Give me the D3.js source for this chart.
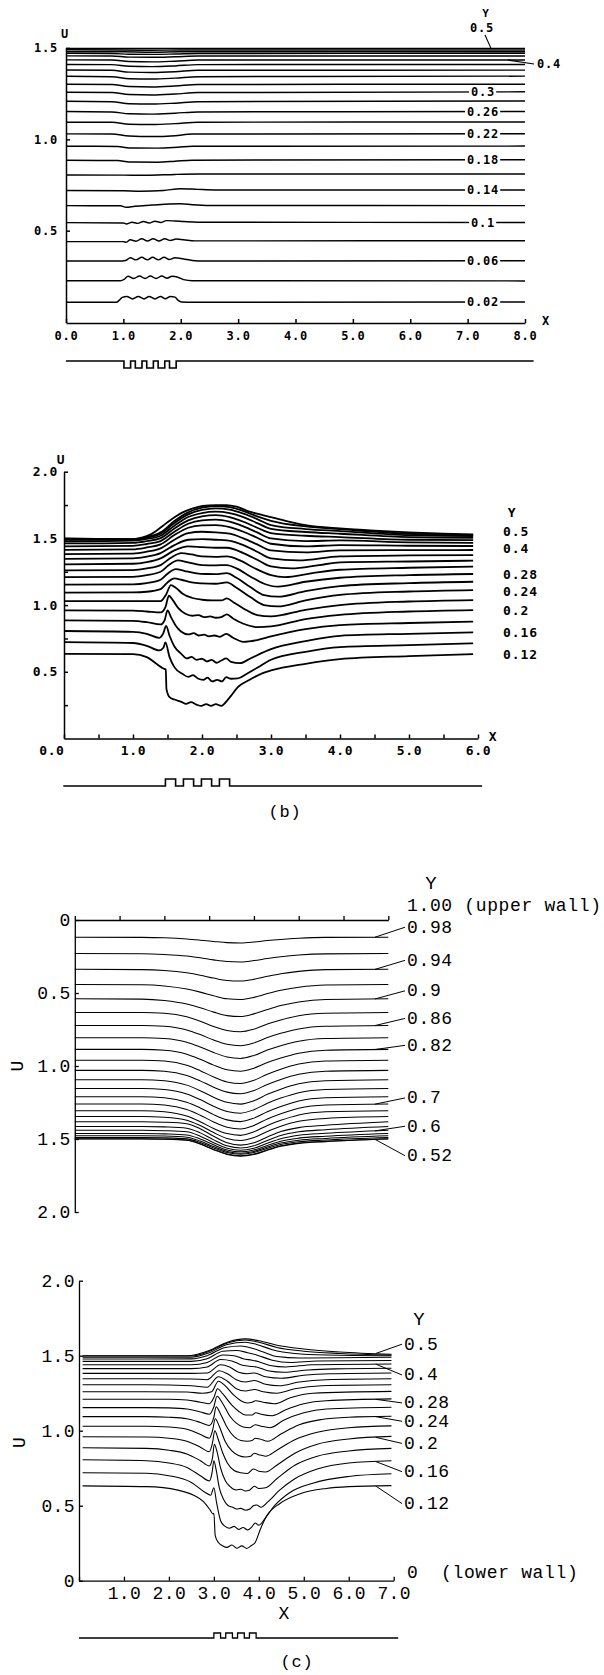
<!DOCTYPE html>
<html>
<head>
<meta charset="utf-8">
<script src="https://cdn.jsdelivr.net/npm/d3@7"></script>
<style>
  body { margin: 0; background: #fff; }
  svg { display: block; }
</style>
</head>
<body>
<div id="figure"></div>
<script>
// ---------------- panel (a) : velocity profiles u(x) at fixed Y ----------------
const yLevelsA = [0.02,0.04,0.06,0.08,0.10,0.12,0.14,0.16,0.18,0.20,0.22,0.24,0.26,0.28,0.30,0.32,0.34,0.36,0.38,0.40,0.42,0.44,0.46,0.48,0.50];
const profilesA = [
  [[0,.108],[0.88,.108],[0.93,.12],[0.98,.135],[1.06,.14],[1.16,.126],[1.26,.14],[1.36,.126],[1.45,.14],[1.55,.126],[1.65,.14],[1.73,.127],[1.82,.14],[1.9,.136],[1.95,.12],[2.02,.11],[2.2,.108],[8,.11]],
  [[0,.226],[0.95,.226],[1.02,.235],[1.08,.25],[1.18,.238],[1.28,.252],[1.38,.238],[1.47,.252],[1.57,.238],[1.67,.252],[1.76,.24],[1.85,.25],[1.95,.245],[2.05,.232],[2.2,.226],[8,.225]],
  [[0,.334],[0.98,.334],[1.05,.338],[1.12,.352],[1.22,.34],[1.32,.354],[1.42,.34],[1.51,.354],[1.61,.34],[1.71,.354],[1.8,.342],[1.9,.352],[2.05,.345],[2.2,.337],[2.4,.334],[8,.335]],
  [[0,.44],[1.0,.44],[1.05,.436],[1.12,.45],[1.22,.442],[1.32,.456],[1.42,.443],[1.52,.456],[1.62,.443],[1.72,.456],[1.82,.446],[1.92,.454],[2.05,.45],[2.25,.444],[2.5,.444],[8,.445]],
  [[0,.544],[1.0,.542],[1.05,.537],[1.15,.546],[1.25,.54],[1.35,.55],[1.45,.542],[1.55,.552],[1.65,.545],[1.75,.555],[1.9,.553],[2.05,.55],[2.3,.546],[8,.545]],
  [[0,.637],[0.95,.636],[1.05,.628],[1.2,.634],[1.5,.64],[1.8,.646],[2.0,.647],[2.2,.642],[2.5,.638],[8,.637]],
  [[0,.72],[1.0,.718],[1.3,.716],[1.7,.72],[2.0,.73],[2.3,.726],[2.6,.723],[8,.723]],
  [[0,.805],[1.0,.804],[1.4,.803],[1.9,.808],[2.3,.81],[8,.81]],
  [[0,.885],[0.9,.884],[1.1,.876],[1.6,.875],[1.9,.88],[2.2,.886],[8,.888]],
  [[0,.962],[0.9,.961],[1.1,.953],[1.6,.952],[1.95,.957],[2.2,.962],[8,.963]],
  [[0,1.03],[0.8,1.029],[1.1,1.018],[1.5,1.015],[1.9,1.02],[2.2,1.029],[8,1.031]],
  [[0,1.094],[0.8,1.093],[1.1,1.083],[1.5,1.081],[1.9,1.086],[2.3,1.094],[8,1.095]],
  [[0,1.152],[0.8,1.15],[1.1,1.14],[1.5,1.138],[1.9,1.143],[2.3,1.15],[8,1.152]],
  [[0,1.208],[0.8,1.206],[1.1,1.195],[1.5,1.193],[1.9,1.198],[2.3,1.206],[8,1.21]],
  [[0,1.258],[0.8,1.256],[1.1,1.245],[1.5,1.243],[1.9,1.248],[2.3,1.256],[8,1.26]],
  [[0,1.302],[0.8,1.3],[1.1,1.289],[1.5,1.287],[1.9,1.292],[2.3,1.3],[8,1.302]],
  [[0,1.345],[0.8,1.343],[1.1,1.332],[1.5,1.33],[1.9,1.335],[2.3,1.343],[8,1.346]],
  [[0,1.38],[0.8,1.378],[1.1,1.368],[1.5,1.366],[1.9,1.37],[2.3,1.378],[8,1.379]],
  [[0,1.41],[0.8,1.409],[1.1,1.4],[1.5,1.398],[1.9,1.402],[2.3,1.409],[8,1.41]],
  [[0,1.435],[0.8,1.434],[1.1,1.426],[1.5,1.424],[1.9,1.428],[2.3,1.434],[8,1.434]],
  [[0,1.457],[0.8,1.456],[1.1,1.45],[1.5,1.449],[1.9,1.452],[2.3,1.456],[8,1.456]],
  [[0,1.471],[0.8,1.47],[1.1,1.466],[1.5,1.465],[1.9,1.467],[2.3,1.47],[8,1.471]],
  [[0,1.48],[1.0,1.479],[1.5,1.477],[2.0,1.479],[8,1.48]],
  [[0,1.49],[1.0,1.489],[1.5,1.488],[2.0,1.489],[8,1.489]],
  [[0,1.497],[8,1.498]]
];
const xTicksA = [0,1,2,3,4,5,6,7,8];
const uTicksA = [0.5,1.0,1.5];
const inlineLevelsA = [0.30,0.26,0.22,0.18,0.14,0.10,0.06,0.02];
const inlineTextA = ["0.3","0.26","0.22","0.18","0.14","0.1","0.06","0.02"];
const wallExtentA = [0, 8.15];
const grooveSpanA = [1.01, 1.92];
const grooveCountA = 5;

// ---------------- panel (b) ----------------
const yLevelsB = [0.12,0.14,0.16,0.18,0.20,0.22,0.24,0.26,0.28,0.30,0.32,0.34,0.36,0.38,0.40,0.42,0.44,0.46,0.48,0.50];
const profilesB = [
  [[0,.634],[1.0,.633],[1.2,.61],[1.34,.56],[1.44,.525],[1.475,.518],[1.485,.37],[1.53,.31],[1.6,.292],[1.7,.275],[1.77,.26],[1.84,.272],[1.92,.254],[1.99,.244],[2.06,.258],[2.13,.244],[2.2,.258],[2.28,.245],[2.34,.27],[2.42,.32],[2.52,.385],[2.69,.44],[2.88,.49],[3.0,.51],[3.5,.56],[4.0,.595],[5.0,.618],[5.93,.633]],
  [[0,.722],[1.0,.716],[1.2,.695],[1.38,.66],[1.44,.68],[1.47,.72],[1.53,.61],[1.6,.535],[1.72,.483],[1.8,.462],[1.87,.475],[1.94,.45],[2.02,.44],[2.08,.456],[2.15,.428],[2.22,.44],[2.29,.428],[2.35,.46],[2.42,.448],[2.52,.45],[2.65,.485],[2.8,.53],[3.0,.59],[3.5,.65],[4.0,.685],[5.0,.70],[5.93,.713]],
  [[0,.806],[1.0,.80],[1.2,.785],[1.38,.755],[1.44,.79],[1.48,.845],[1.53,.77],[1.6,.69],[1.7,.635],[1.78,.60],[1.85,.612],[1.92,.59],[2.0,.598],[2.07,.578],[2.14,.59],[2.21,.568],[2.28,.585],[2.35,.60],[2.42,.575],[2.55,.565],[2.7,.6],[3.0,.67],[3.5,.73],[4.0,.77],[5.0,.785],[5.93,.796]],
  [[0,.886],[1.0,.882],[1.2,.872],[1.4,.855],[1.46,.89],[1.5,.96],[1.55,.91],[1.62,.845],[1.7,.80],[1.8,.78],[1.88,.79],[1.95,.772],[2.03,.778],[2.1,.765],[2.18,.772],[2.26,.762],[2.35,.785],[2.45,.755],[2.6,.725],[2.8,.738],[3.0,.765],[3.5,.82],[4.0,.85],[5.0,.866],[5.93,.876]],
  [[0,.96],[1.0,.958],[1.2,.952],[1.4,.945],[1.47,.985],[1.52,1.07],[1.58,1.035],[1.66,.975],[1.76,.935],[1.86,.92],[1.95,.925],[2.03,.91],[2.12,.915],[2.2,.905],[2.28,.91],[2.36,.93],[2.45,.9],[2.6,.86],[2.8,.835],[3.0,.84],[3.5,.895],[4.0,.926],[5.0,.952],[5.93,.963]],
  [[0,1.03],[1.0,1.03],[1.2,1.03],[1.4,1.03],[1.48,1.08],[1.55,1.15],[1.62,1.13],[1.72,1.085],[1.85,1.055],[2.0,1.04],[2.15,1.035],[2.28,1.035],[2.36,1.05],[2.46,1.02],[2.6,.975],[2.8,.925],[3.0,.915],[3.5,.965],[4.0,1.0],[5.0,1.027],[5.93,1.038]],
  [[0,1.094],[1.0,1.095],[1.2,1.10],[1.4,1.12],[1.5,1.17],[1.6,1.2],[1.7,1.19],[1.85,1.17],[2.0,1.163],[2.2,1.16],[2.36,1.17],[2.5,1.13],[2.7,1.06],[2.9,1.0],[3.1,.99],[3.5,1.035],[4.0,1.076],[5.0,1.102],[5.93,1.113]],
  [[0,1.154],[1.0,1.156],[1.2,1.165],[1.4,1.19],[1.5,1.235],[1.62,1.27],[1.75,1.255],[1.9,1.24],[2.05,1.233],[2.2,1.232],[2.36,1.24],[2.5,1.205],[2.7,1.135],[2.9,1.075],[3.1,1.063],[3.5,1.105],[4.0,1.143],[5.0,1.165],[5.93,1.175]],
  [[0,1.21],[1.0,1.212],[1.2,1.225],[1.4,1.25],[1.52,1.30],[1.65,1.335],[1.8,1.32],[2.0,1.30],[2.2,1.298],[2.36,1.30],[2.5,1.275],[2.7,1.215],[2.9,1.16],[3.1,1.138],[3.5,1.175],[4.0,1.205],[5.0,1.225],[5.93,1.233]],
  [[0,1.26],[1.0,1.262],[1.2,1.275],[1.4,1.30],[1.55,1.355],[1.7,1.39],[1.85,1.38],[2.0,1.365],[2.2,1.362],[2.36,1.365],[2.55,1.335],[2.75,1.28],[3.0,1.225],[3.2,1.21],[3.6,1.24],[4.0,1.265],[5.0,1.28],[5.93,1.288]],
  [[0,1.306],[1.0,1.31],[1.2,1.322],[1.4,1.35],[1.6,1.41],[1.8,1.44],[2.0,1.435],[2.2,1.43],[2.36,1.43],[2.6,1.39],[2.8,1.34],[3.0,1.29],[3.3,1.275],[3.7,1.3],[4.0,1.32],[5.0,1.327],[5.93,1.333]],
  [[0,1.346],[1.0,1.35],[1.2,1.363],[1.4,1.39],[1.6,1.45],[1.8,1.49],[2.0,1.495],[2.2,1.49],[2.36,1.485],[2.6,1.45],[2.8,1.40],[3.0,1.35],[3.4,1.335],[4.0,1.365],[5.0,1.372],[5.93,1.375]],
  [[0,1.382],[1.0,1.386],[1.2,1.40],[1.4,1.425],[1.6,1.49],[1.8,1.54],[2.0,1.55],[2.2,1.545],[2.4,1.535],[2.6,1.50],[2.8,1.455],[3.0,1.41],[3.5,1.395],[4.0,1.41],[5.0,1.412],[5.93,1.413]],
  [[0,1.414],[1.0,1.418],[1.2,1.432],[1.4,1.455],[1.6,1.525],[1.8,1.58],[2.0,1.598],[2.2,1.60],[2.4,1.585],[2.6,1.55],[2.8,1.505],[3.0,1.46],[3.5,1.44],[4.0,1.45],[5.0,1.445],[5.93,1.443]],
  [[0,1.44],[1.0,1.444],[1.2,1.458],[1.4,1.48],[1.6,1.55],[1.8,1.61],[2.0,1.635],[2.2,1.64],[2.4,1.625],[2.6,1.59],[2.8,1.545],[3.0,1.50],[3.5,1.48],[4.0,1.485],[5.0,1.47],[5.93,1.467]],
  [[0,1.462],[1.0,1.467],[1.2,1.48],[1.4,1.502],[1.6,1.575],[1.8,1.635],[2.0,1.665],[2.2,1.675],[2.4,1.66],[2.6,1.625],[2.8,1.58],[3.0,1.54],[3.5,1.52],[4.0,1.51],[5.0,1.49],[5.93,1.487]],
  [[0,1.478],[1.0,1.483],[1.2,1.496],[1.4,1.52],[1.6,1.595],[1.8,1.66],[2.0,1.69],[2.2,1.70],[2.4,1.69],[2.6,1.66],[2.8,1.615],[3.0,1.572],[3.5,1.548],[4.0,1.535],[5.0,1.51],[5.93,1.505]],
  [[0,1.49],[1.0,1.49],[1.2,1.505],[1.4,1.535],[1.6,1.615],[1.8,1.68],[2.0,1.713],[2.2,1.725],[2.4,1.715],[2.6,1.685],[2.8,1.645],[3.0,1.60],[3.5,1.57],[4.0,1.555],[5.0,1.525],[5.93,1.518]],
  [[0,1.498],[1.0,1.495],[1.2,1.51],[1.4,1.545],[1.6,1.63],[1.8,1.695],[2.0,1.73],[2.2,1.742],[2.4,1.735],[2.6,1.705],[2.8,1.665],[3.0,1.632],[3.5,1.59],[4.0,1.57],[5.0,1.535],[5.93,1.525]],
  [[0,1.50],[1.0,1.495],[1.14,1.508],[1.24,1.526],[1.34,1.558],[1.43,1.593],[1.53,1.633],[1.63,1.668],[1.72,1.695],[1.87,1.725],[2.01,1.743],[2.2,1.75],[2.35,1.75],[2.5,1.738],[2.69,1.70],[2.88,1.675],[3.0,1.66],[3.5,1.60],[4.0,1.575],[4.5,1.558],[5.0,1.545],[5.5,1.535],[5.93,1.53]]
];
const xTicksB = [0,0.5,1,1.5,2,2.5,3,3.5,4,4.5,5,5.5,6];
const uTicksB = [0.25,0.5,0.75,1,1.25,1.5,1.75,2];
const sideLevelsB = [0.50,0.40,0.28,0.24,0.20,0.16,0.12];
const sideTextB = ["0.5","0.4","0.28","0.24","0.2","0.16","0.12"];
const wallExtentB = [-0.01, 6.06];
const ribSpanB = [1.47, 2.40];
const ribCountB = 4;

// ---------------- panel (c), upper half (Y = 0.5 .. 0.98, u downwards) ----------------
const yLevelsCU = [0.98,0.96,0.94,0.92,0.90,0.88,0.86,0.84,0.82,0.80,0.78,0.76,0.74,0.72,0.70,0.68,0.66,0.64,0.62,0.60,0.58,0.56,0.54,0.52,0.50];
const xGridCU = [0,1.5,2.0,2.5,2.8,3.1,3.4,3.7,4.0,4.3,4.6,5.0,5.6,7.0];
const profilesCU = [
  [.118,.119,.122,.130,.138,.147,.155,.157,.151,.141,.133,.125,.119,.118],
  [.230,.231,.236,.247,.259,.273,.284,.287,.278,.264,.252,.240,.232,.230],
  [.338,.340,.346,.362,.378,.398,.414,.418,.406,.386,.368,.352,.340,.338],
  [.442,.444,.452,.473,.494,.519,.540,.545,.530,.504,.481,.460,.445,.442],
  [.540,.542,.552,.576,.601,.631,.655,.661,.643,.613,.586,.561,.544,.540],
  [.634,.634,.639,.663,.693,.729,.757,.766,.748,.713,.685,.656,.639,.634],
  [.722,.722,.728,.753,.785,.822,.851,.861,.842,.805,.776,.746,.728,.722],
  [.806,.806,.812,.837,.870,.908,.938,.948,.928,.891,.861,.830,.812,.806],
  [.886,.886,.892,.919,.954,.994,1.026,1.036,1.015,.976,.945,.912,.892,.886],
  [.960,.960,.966,.995,1.032,1.075,1.109,1.120,1.098,1.056,1.022,.987,.966,.960],
  [1.030,1.030,1.036,1.065,1.102,1.145,1.179,1.190,1.168,1.126,1.092,1.057,1.036,1.030],
  [1.094,1.094,1.101,1.131,1.169,1.214,1.249,1.261,1.238,1.194,1.159,1.122,1.101,1.094],
  [1.154,1.154,1.161,1.191,1.230,1.276,1.311,1.323,1.299,1.255,1.220,1.183,1.161,1.154],
  [1.210,1.210,1.217,1.248,1.287,1.333,1.369,1.381,1.357,1.313,1.277,1.239,1.217,1.210],
  [1.260,1.260,1.267,1.298,1.337,1.383,1.419,1.431,1.407,1.363,1.327,1.289,1.267,1.260],
  [1.306,1.306,1.313,1.343,1.382,1.428,1.463,1.475,1.451,1.407,1.372,1.335,1.313,1.306],
  [1.346,1.346,1.351,1.371,1.408,1.456,1.497,1.510,1.490,1.448,1.412,1.379,1.359,1.346],
  [1.382,1.382,1.385,1.395,1.430,1.481,1.526,1.542,1.526,1.486,1.449,1.422,1.406,1.382],
  [1.414,1.414,1.417,1.426,1.458,1.506,1.547,1.562,1.547,1.510,1.476,1.451,1.436,1.414],
  [1.440,1.440,1.443,1.451,1.481,1.525,1.563,1.577,1.563,1.529,1.498,1.474,1.461,1.440],
  [1.462,1.462,1.465,1.472,1.500,1.540,1.575,1.588,1.575,1.544,1.515,1.494,1.481,1.462],
  [1.478,1.478,1.480,1.488,1.514,1.552,1.585,1.597,1.585,1.555,1.528,1.508,1.496,1.478],
  [1.490,1.490,1.492,1.499,1.524,1.561,1.593,1.604,1.593,1.564,1.538,1.519,1.507,1.490],
  [1.498,1.498,1.500,1.507,1.533,1.571,1.603,1.615,1.603,1.574,1.547,1.527,1.516,1.498],
  [1.500,1.500,1.502,1.509,1.535,1.573,1.606,1.618,1.606,1.577,1.550,1.530,1.518,1.500]
];
const xTicksC = [0,1,2,3,4,5,6,7];
const uTicksC = [0,0.5,1,1.5,2];
const sideLevelsCU = [0.98,0.94,0.90,0.86,0.82,0.70,0.60,0.52];
const sideTextCU = ["0.98","0.94","0.9","0.86","0.82","0.7","0.6","0.52"];

// ---------------- panel (c), lower half (Y = 0.12 .. 0.5) ----------------
const yLevelsCL = [0.12,0.14,0.16,0.18,0.20,0.22,0.24,0.26,0.28,0.30,0.32,0.34,0.36,0.38,0.40,0.42,0.44,0.46,0.48,0.50];
const profilesCL = [
  [[0.08,.632],[1.5,.627],[2.2,.604],[2.55,.57],[2.77,.527],[2.92,.47],[2.98,.445],[3.0,.45],[3.03,.30],[3.1,.255],[3.2,.232],[3.29,.222],[3.4,.238],[3.51,.216],[3.62,.232],[3.73,.215],[3.84,.236],[3.92,.255],[4.03,.34],[4.17,.43],[4.47,.515],[4.92,.58],[5.5,.615],[6.0,.627],[6.95,.634]],
  [[0.08,.72],[1.5,.716],[2.0,.70],[2.5,.655],[2.8,.59],[2.93,.57],[3.0,.62],[3.06,.52],[3.15,.40],[3.25,.362],[3.35,.35],[3.45,.362],[3.55,.342],[3.65,.355],[3.75,.338],[3.85,.36],[3.92,.385],[4.0,.37],[4.15,.42],[4.35,.5],[4.7,.59],[5.2,.65],[6.0,.695],[6.95,.713]],
  [[0.08,.806],[1.5,.80],[2.0,.785],[2.4,.755],[2.7,.70],[2.9,.665],[2.96,.72],[3.0,.80],[3.05,.74],[3.12,.62],[3.22,.54],[3.32,.50],[3.42,.49],[3.5,.478],[3.6,.482],[3.7,.47],[3.8,.478],[3.88,.50],[3.95,.505],[4.05,.49],[4.2,.525],[4.45,.6],[4.8,.68],[5.3,.745],[6.0,.785],[6.95,.80]],
  [[0.08,.886],[1.5,.882],[2.0,.87],[2.4,.845],[2.7,.80],[2.9,.765],[2.97,.82],[3.01,.91],[3.07,.86],[3.15,.75],[3.25,.67],[3.35,.63],[3.5,.605],[3.6,.61],[3.7,.598],[3.8,.605],[3.9,.63],[4.0,.615],[4.15,.62],[4.4,.68],[4.8,.77],[5.3,.83],[6.0,.865],[6.95,.882]],
  [[0.08,.96],[1.5,.958],[2.0,.95],[2.4,.93],[2.7,.89],[2.9,.86],[2.97,.92],[3.02,1.0],[3.1,.94],[3.2,.85],[3.3,.785],[3.45,.735],[3.6,.72],[3.75,.715],[3.88,.745],[4.0,.73],[4.15,.725],[4.4,.77],[4.8,.85],[5.3,.91],[6.0,.945],[6.95,.962]],
  [[0.08,1.03],[1.5,1.03],[2.0,1.025],[2.4,1.01],[2.7,.975],[2.9,.95],[2.97,1.0],[3.03,1.08],[3.12,1.03],[3.25,.93],[3.4,.865],[3.55,.835],[3.7,.825],[3.82,.83],[3.9,.85],[4.0,.84],[4.15,.83],[4.4,.87],[4.8,.94],[5.3,.99],[6.0,1.02],[6.95,1.032]],
  [[0.08,1.094],[1.5,1.094],[2.0,1.09],[2.4,1.08],[2.7,1.055],[2.9,1.035],[3.0,1.09],[3.05,1.16],[3.15,1.11],[3.3,1.02],[3.45,.96],[3.6,.935],[3.75,.93],[3.85,.935],[3.92,.95],[4.02,.945],[4.2,.93],[4.5,.98],[4.9,1.04],[5.4,1.075],[6.0,1.09],[6.95,1.096]],
  [[0.08,1.154],[1.5,1.154],[2.0,1.152],[2.4,1.145],[2.7,1.125],[2.9,1.11],[3.0,1.16],[3.07,1.23],[3.2,1.18],[3.35,1.1],[3.5,1.05],[3.65,1.025],[3.8,1.02],[3.92,1.04],[4.05,1.03],[4.25,1.02],[4.55,1.07],[5.0,1.12],[5.5,1.145],[6.95,1.156]],
  [[0.08,1.21],[1.5,1.21],[2.0,1.21],[2.4,1.205],[2.7,1.19],[2.9,1.18],[3.0,1.22],[3.08,1.28],[3.2,1.245],[3.4,1.17],[3.55,1.13],[3.7,1.105],[3.85,1.105],[3.93,1.12],[4.05,1.11],[4.3,1.10],[4.6,1.14],[5.0,1.18],[5.5,1.2],[6.95,1.212]],
  [[0.08,1.26],[1.5,1.26],[2.4,1.258],[2.75,1.25],[2.95,1.26],[3.1,1.33],[3.25,1.30],[3.45,1.235],[3.6,1.2],[3.75,1.185],[3.85,1.19],[3.93,1.2],[4.1,1.19],[4.35,1.18],[4.7,1.22],[5.2,1.25],[6.95,1.262]],
  [[0.08,1.306],[1.5,1.306],[2.5,1.30],[2.85,1.29],[3.1,1.36],[3.3,1.33],[3.5,1.28],[3.7,1.265],[3.9,1.275],[4.1,1.26],[4.4,1.25],[4.8,1.28],[5.4,1.30],[6.95,1.306]],
  [[0.08,1.346],[1.5,1.346],[2.5,1.345],[2.85,1.34],[3.12,1.40],[3.3,1.38],[3.5,1.34],[3.7,1.325],[3.9,1.335],[4.15,1.31],[4.45,1.30],[4.9,1.325],[5.5,1.34],[6.95,1.346]],
  [[0.08,1.382],[1.5,1.382],[2.5,1.382],[2.85,1.385],[3.15,1.44],[3.35,1.425],[3.55,1.39],[3.75,1.38],[3.9,1.385],[4.15,1.36],[4.5,1.35],[5.0,1.37],[5.6,1.38],[6.95,1.385]],
  [[0.08,1.414],[1.5,1.414],[2.5,1.414],[2.85,1.425],[3.15,1.475],[3.4,1.465],[3.6,1.44],[3.8,1.43],[3.95,1.425],[4.2,1.40],[4.55,1.39],[5.1,1.405],[5.7,1.412],[6.95,1.416]],
  [[0.08,1.44],[1.5,1.44],[2.5,1.44],[2.85,1.455],[3.2,1.505],[3.45,1.50],[3.65,1.48],[3.85,1.47],[4.0,1.46],[4.25,1.435],[4.6,1.425],[5.2,1.44],[6.95,1.445]],
  [[0.08,1.462],[1.5,1.462],[2.5,1.462],[2.85,1.48],[3.2,1.53],[3.5,1.535],[3.75,1.52],[3.95,1.505],[4.3,1.47],[4.7,1.455],[5.3,1.465],[6.95,1.468]],
  [[0.08,1.478],[1.5,1.478],[2.5,1.479],[2.85,1.50],[3.25,1.555],[3.6,1.565],[3.85,1.55],[4.1,1.525],[4.4,1.495],[4.9,1.485],[6.95,1.49]],
  [[0.08,1.49],[1.5,1.49],[2.5,1.49],[2.9,1.52],[3.3,1.575],[3.7,1.59],[3.95,1.575],[4.3,1.54],[4.8,1.515],[5.5,1.505],[6.95,1.50]],
  [[0.08,1.498],[1.5,1.498],[2.5,1.498],[2.9,1.53],[3.3,1.585],[3.7,1.605],[4.0,1.59],[4.4,1.555],[5.0,1.53],[5.8,1.515],[6.95,1.505]],
  [[0.08,1.50],[1.5,1.50],[2.4,1.50],[2.9,1.535],[3.3,1.59],[3.7,1.612],[4.0,1.60],[4.4,1.57],[5.0,1.545],[5.8,1.525],[6.95,1.51]]
];
const sideLevelsCL = [0.50,0.40,0.28,0.24,0.20,0.16,0.12];
const sideTextCL = ["0.5","0.4","0.28","0.24","0.2","0.16","0.12"];
const wallExtentC = [0, 7.1];
const ribSpanC = [3.0, 3.94];
const ribCountC = 4;

// ---------------- drawing ----------------
const svg = d3.select("#figure").append("svg").attr("width", 604).attr("height", 1675);
const BOLD = "'DejaVu Sans Mono', monospace";
const TYPE = "'Liberation Mono', 'DejaVu Sans Mono', monospace";

function addText(g, x, y, s, o) {
  o = o || {};
  return g.append("text")
    .attr("x", x).attr("y", y).attr("dy", "0.35em")
    .attr("text-anchor", o.anchor || "start")
    .attr("font-family", o.font || BOLD)
    .attr("font-size", o.size || 12)
    .attr("font-weight", o.weight || "bold")
    .attr("letter-spacing", o.ls == null ? 0.8 : o.ls)
    .attr("transform", o.rotate ? "rotate(" + o.rotate + "," + x + "," + y + ")" : null)
    .text(s);
}

function uAt(pts, x) {
  for (let i = 1; i < pts.length; i++) {
    if (x <= pts[i][0]) {
      const a = pts[i - 1], b = pts[i];
      return a[1] + (b[1] - a[1]) * (x - a[0]) / (b[0] - a[0]);
    }
  }
  return pts[pts.length - 1][1];
}

function profileFor(levels, profiles, lv) {
  return profiles[levels.findIndex(v => Math.abs(v - lv) < 1e-9)];
}

// wall sketch under each panel: n grooves (down) or ribs (up)
function wallPath(x, y0, ext, span, n, h, dir, ratio) {
  const L = x(span[1]) - x(span[0]);
  const s = L / (n * ratio + n - 1);
  const f = s * ratio;
  let cx = x(span[0]);
  let p = "M" + x(ext[0]) + "," + y0 + "H" + cx;
  for (let i = 0; i < n; i++) {
    p += "V" + (y0 + dir * h) + "H" + (cx + f) + "V" + y0;
    cx += f;
    if (i < n - 1) { cx += s; p += "H" + cx; }
  }
  return p + "H" + x(ext[1]);
}

function styleAxis(ax, font, size, weight, ls, sw) {
  ax.attr("font-family", font).attr("font-size", size).attr("font-weight", weight);
  ax.selectAll("text").attr("letter-spacing", ls).attr("fill", "#000");
  ax.selectAll("path,line").attr("stroke", "#000").attr("stroke-width", sw);
}

// ===== (a) =====
const xA = d3.scaleLinear().domain([0, 8]).range([66, 525]);
const uA = d3.scaleLinear().domain([0, 1.5]).range([322, 48]);
const gA = svg.append("g");
const lineA = d3.line().x(d => xA(d[0])).y(d => uA(d[1])).curve(d3.curveMonotoneX);
gA.append("g").selectAll("path").data(profilesA).join("path")
  .attr("d", lineA).attr("fill", "none").attr("stroke", "#000").attr("stroke-width", 1.45);

const axA = gA.append("g").attr("transform", "translate(0," + (uA(0) + 1) + ")")
  .call(d3.axisBottom(xA).tickValues(xTicksA).tickSizeInner(-4).tickSizeOuter(0).tickPadding(8).tickFormat(d => d.toFixed(1)));
styleAxis(axA, BOLD, 12, "bold", 0.8, 1.5);
const ayA = gA.append("g").attr("transform", "translate(" + xA(0) + ",0)")
  .call(d3.axisLeft(uA).tickValues(uTicksA).tickSizeInner(-4).tickSizeOuter(0).tickPadding(8).tickFormat(d => d.toFixed(1)));
ayA.select(".domain").attr("d", "M0.5," + uA(1.5) + "V" + (uA(0) + 1));
styleAxis(ayA, BOLD, 12, "bold", 0.8, 1.5);

addText(gA, xA(0) - 1, 34, "U", { anchor: "middle" });
addText(gA, 546, uA(0) - 1, "X", { anchor: "middle" });
addText(gA, 486, 13, "Y", { anchor: "middle", size: 11 });
addText(gA, 482, 28, "0.5", { anchor: "middle" });
gA.append("line").attr("x1", 485).attr("y1", 35).attr("x2", 491).attr("y2", uA(1.498))
  .attr("stroke", "#000").attr("stroke-width", 1.1);
const p040 = profileFor(yLevelsA, profilesA, 0.40);
gA.append("line").attr("x1", xA(7.7)).attr("y1", uA(uAt(p040, 7.7))).attr("x2", 534).attr("y2", 64)
  .attr("stroke", "#000").attr("stroke-width", 1.1);
addText(gA, 537, 64, "0.4", {});
// inline labels sit on their line, with the line knocked out behind them
inlineLevelsA.forEach((lv, i) => {
  const u = uAt(profileFor(yLevelsA, profilesA, lv), 7.27);
  const t = addText(gA, xA(7.27), uA(u), inlineTextA[i], { anchor: "middle" });
  const bb = t.node().getBBox();
  gA.insert("rect", () => t.node())
    .attr("x", bb.x - 2).attr("y", uA(u) - 4).attr("width", bb.width + 3).attr("height", 8)
    .attr("fill", "#fff");
});
gA.append("path").attr("d", wallPath(xA, 361, wallExtentA, grooveSpanA, grooveCountA, 7, 1, 1.4))
  .attr("fill", "none").attr("stroke", "#000").attr("stroke-width", 1.6);

// ===== (b) =====
const xB = d3.scaleLinear().domain([0, 6]).range([64, 478]);
const uB = d3.scaleLinear().domain([0, 2]).range([738.5, 471.7]);
const gB = svg.append("g");
const lineB = d3.line().x(d => xB(d[0])).y(d => uB(d[1])).curve(d3.curveMonotoneX);
gB.append("g").selectAll("path").data(profilesB).join("path")
  .attr("d", lineB).attr("fill", "none").attr("stroke", "#000").attr("stroke-width", 1.8);

const axB = gB.append("g").attr("transform", "translate(0," + uB(0) + ")")
  .call(d3.axisBottom(xB).tickValues(xTicksB).tickSizeInner(-4).tickSizeOuter(0).tickPadding(7)
    .tickFormat(d => Number.isInteger(d) ? d.toFixed(1) : ""));
styleAxis(axB, BOLD, 13, "bold", 0.6, 1.5);
axB.selectAll(".tick").filter(d => d === 0).select("text").attr("text-anchor", "end").attr("x", 0);
const ayB = gB.append("g").attr("transform", "translate(" + xB(0) + ",0)")
  .call(d3.axisLeft(uB).tickValues(uTicksB).tickSizeInner(-4).tickSizeOuter(0).tickPadding(6)
    .tickFormat(d => (d * 2) % 1 === 0 ? d.toFixed(1) : ""));
styleAxis(ayB, BOLD, 13, "bold", 0.6, 1.5);

addText(gB, 61, 459, "U", { anchor: "middle", size: 13 });
addText(gB, 493, uB(0) - 2, "X", { anchor: "middle", size: 13 });
const sideYB = [];
sideLevelsB.forEach((lv, i) => {
  const p = profileFor(yLevelsB, profilesB, lv);
  let y = uB(p[p.length - 1][1]);
  if (i > 0 && y - sideYB[i - 1] < 17) y = sideYB[i - 1] + 17;
  sideYB.push(y);
});
sideYB[0] -= 3; sideYB[1] -= 3;
addText(gB, 512, sideYB[0] - 19, "Y", { anchor: "middle", size: 13 });
sideLevelsB.forEach((lv, i) => addText(gB, 503, sideYB[i], sideTextB[i], { size: 13, ls: 0.9 }));
gB.append("path").attr("d", wallPath(xB, 786, wallExtentB, ribSpanB, ribCountB, 7, -1, 1.3))
  .attr("fill", "none").attr("stroke", "#000").attr("stroke-width", 1.6);
addText(gB, 285, 811, "(b)", { anchor: "middle", font: TYPE, size: 17, weight: "normal", ls: 0.8 });

// ===== (c) upper =====
const xCU = d3.scaleLinear().domain([0, 7]).range([74.8, 388.3]);
const uCU = d3.scaleLinear().domain([0, 2]).range([920, 1212]);
const gCU = svg.append("g");
const lineCU = d3.line().x(d => xCU(d[0])).y(d => uCU(d[1])).curve(d3.curveMonotoneX);
const ptsCU = profilesCU.map(row => row.map((u, i) => [xGridCU[i], u]));
gCU.append("g").selectAll("path").data(ptsCU).join("path")
  .attr("d", lineCU).attr("fill", "none").attr("stroke", "#000").attr("stroke-width", 1.05);

const axCU = gCU.append("g").attr("transform", "translate(0," + uCU(0) + ")")
  .call(d3.axisTop(xCU).tickValues(xTicksC).tickSizeInner(4).tickSizeOuter(0).tickFormat(""));
styleAxis(axCU, TYPE, 18, "normal", 0.7, 1.3);
const ayCU = gCU.append("g").attr("transform", "translate(" + xCU(0) + ",0)")
  .call(d3.axisLeft(uCU).tickValues(uTicksC).tickSizeInner(-4).tickSizeOuter(0).tickPadding(4)
    .tickFormat(d => d === 0 ? "0" : d.toFixed(1)));
styleAxis(ayCU, TYPE, 18, "normal", 0.4, 1.3);

addText(gCU, 17, uCU(1.0), "U", { anchor: "middle", font: TYPE, size: 18, weight: "normal", ls: 0, rotate: -90 });
addText(gCU, 431, 882, "Y", { anchor: "middle", font: TYPE, size: 19, weight: "normal", ls: 0 });
addText(gCU, 407, uCU(0) - 15, "1.00 (upper wall)", { font: TYPE, size: 18, weight: "normal", ls: 0.65 });
const offCU = [-11, -10, -9, -8, -5, -7, -5, 16];
sideLevelsCU.forEach((lv, i) => {
  const p = ptsCU[yLevelsCU.findIndex(v => Math.abs(v - lv) < 1e-9)];
  const yEnd = uCU(p[p.length - 1][1]);
  const ly = yEnd + offCU[i];
  gCU.append("line").attr("x1", xCU(6.7)).attr("y1", uCU(uAt(p, 6.7))).attr("x2", 405).attr("y2", ly + 1)
    .attr("stroke", "#000").attr("stroke-width", 1);
  addText(gCU, 407, ly, sideTextCU[i], { font: TYPE, size: 18, weight: "normal", ls: 0.65 });
});

// ===== (c) lower =====
const xCL = d3.scaleLinear().domain([0, 7]).range([79, 393.7]);
const uCL = d3.scaleLinear().domain([0, 2]).range([1580.7, 1280.7]);
const gCL = svg.append("g");
const lineCL = d3.line().x(d => xCL(d[0])).y(d => uCL(d[1])).curve(d3.curveMonotoneX);
gCL.append("g").selectAll("path").data(profilesCL).join("path")
  .attr("d", lineCL).attr("fill", "none").attr("stroke", "#000").attr("stroke-width", 1.1);

const axCL = gCL.append("g").attr("transform", "translate(0," + uCL(0) + ")")
  .call(d3.axisBottom(xCL).tickValues(xTicksC).tickSizeInner(-4).tickSizeOuter(0).tickPadding(6)
    .tickFormat(d => d === 0 ? "" : d.toFixed(1)));
styleAxis(axCL, TYPE, 18, "normal", 0.4, 1.3);
const ayCL = gCL.append("g").attr("transform", "translate(" + xCL(0) + ",0)")
  .call(d3.axisLeft(uCL).tickValues(uTicksC).tickSizeInner(-4).tickSizeOuter(0).tickPadding(4)
    .tickFormat(d => d === 0 ? "0" : d.toFixed(1)));
styleAxis(ayCL, TYPE, 18, "normal", 0.4, 1.3);

addText(gCL, 19, uCL(0.92), "U", { anchor: "middle", font: TYPE, size: 18, weight: "normal", ls: 0, rotate: -90 });
addText(gCL, 284, 1613, "X", { anchor: "middle", font: TYPE, size: 18, weight: "normal", ls: 0 });
addText(gCL, 419, 1318, "Y", { anchor: "middle", font: TYPE, size: 19, weight: "normal", ls: 0 });
addText(gCL, 407, uCL(0) - 9, "0", { font: TYPE, size: 18, weight: "normal", ls: 0 });
addText(gCL, 441, uCL(0) - 9, "(lower wall)", { font: TYPE, size: 18, weight: "normal", ls: 0.65 });
const offCL = [-11, 10, 3, 4, 6, 10, 17];
sideLevelsCL.forEach((lv, i) => {
  const p = profileFor(yLevelsCL, profilesCL, lv);
  const yEnd = uCL(p[p.length - 1][1]);
  const ly = yEnd + offCL[i];
  gCL.append("line").attr("x1", xCL(6.6)).attr("y1", uCL(uAt(p, 6.6))).attr("x2", 402).attr("y2", ly + 1)
    .attr("stroke", "#000").attr("stroke-width", 1);
  addText(gCL, 404, ly, sideTextCL[i], { font: TYPE, size: 18, weight: "normal", ls: 0.65 });
});
gCL.append("path").attr("d", wallPath(xCL, 1638, wallExtentC, ribSpanC, ribCountC, 5, -1, 1.3))
  .attr("fill", "none").attr("stroke", "#000").attr("stroke-width", 1.3);
addText(gCL, 297, 1661, "(c)", { anchor: "middle", font: TYPE, size: 17, weight: "normal", ls: 0.8 });
</script>
</body>
</html>
